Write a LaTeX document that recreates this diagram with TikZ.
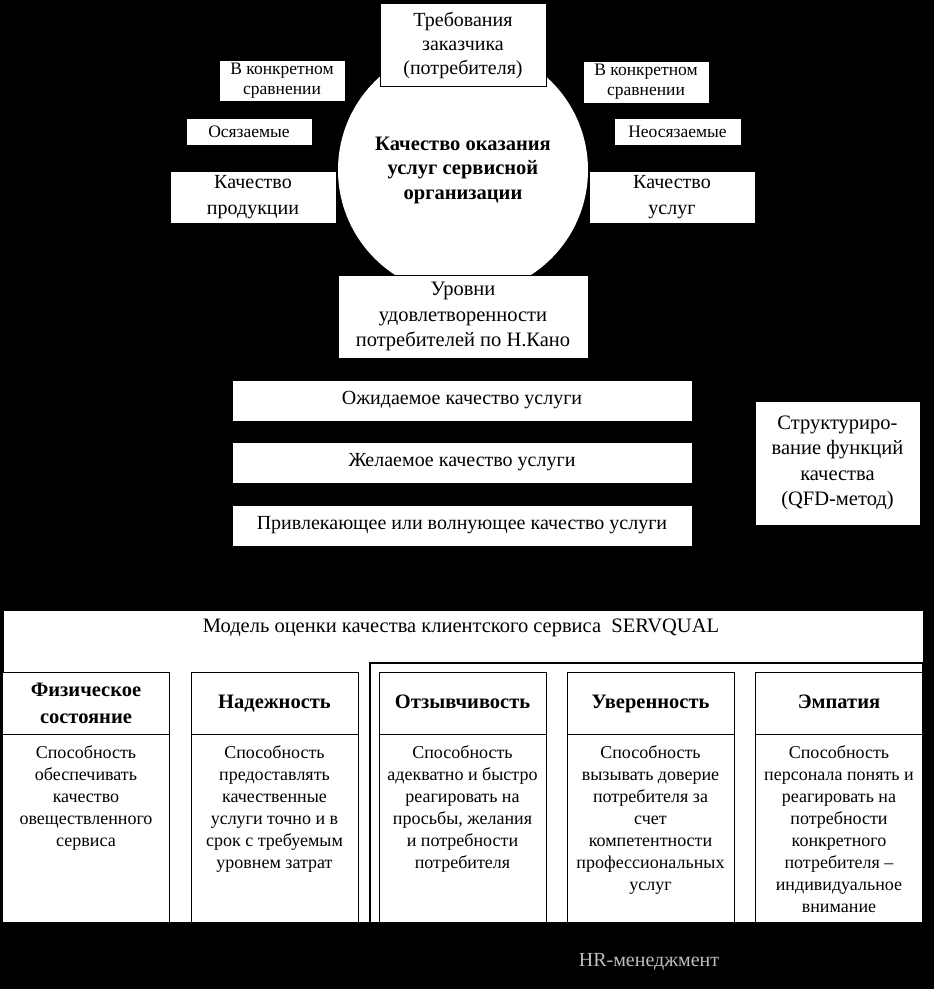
\documentclass[tikz,border=0pt]{standalone}
\usepackage{fontspec}
\setmainfont{Liberation Serif}
\usetikzlibrary{positioning}

\begin{document}
\begin{tikzpicture}[x=1pt,y=-1pt,wbox/.style={fill=white,draw=black,align=center,inner sep=0pt,font=\fontsize{20}{24}\selectfont},small/.style={wbox,font=\fontsize{17.5}{20}\selectfont},bar/.style={wbox,minimum width=460pt,minimum height=41pt,font=\fontsize{20}{22}\selectfont},colhead/.style={fill=white,draw=black,align=center,inner sep=0pt,minimum width=167pt,minimum height=62pt,font=\fontsize{20.5}{27}\selectfont\bfseries},onehead/.style={colhead,text height=14pt,text depth=4pt},colbody/.style={fill=white,draw=black,inner sep=0pt,minimum width=167pt,minimum height=190pt},coltext/.style={align=center,inner sep=0pt,font=\fontsize{18}{22}\selectfont}]
\fill[black] (0,0) rectangle (934,989);
\useasboundingbox (0,0) rectangle (934,989);
% quality of service
\node[circle,fill=white,minimum size=250pt,inner sep=0pt,align=center,font=\fontsize{20.5}{24.5}\selectfont\bfseries] (core) at (463,170){Качество оказания\\услуг сервисной\\организации};
\node[wbox,minimum width=166pt,minimum height=83pt] (req) at (463,45){Требования\\заказчика\\(потребителя)};
\node[small,minimum width=126pt,minimum height=41pt] (cmpl) at (282,81){В конкретном\\сравнении};
\node[small,minimum width=126pt,minimum height=27pt] (tang) at (249,131.5){Осязаемые};
\node[wbox,minimum width=166pt,minimum height=52pt,font=\fontsize{20}{26}\selectfont] (prod) at (253,197){Качество\\продукции};
\node[small,minimum width=126pt,minimum height=42pt] (cmpr) at (646,82){В конкретном\\сравнении};
\node[small,minimum width=127pt,minimum height=27pt] (intang) at (677.5,131.5){Неосязаемые};
\node[wbox,minimum width=166pt,minimum height=52pt,font=\fontsize{20}{26}\selectfont] (serv) at (672,197){Качество\\услуг};
\node[wbox,minimum width=250pt,minimum height=83pt,font=\fontsize{20.5}{25.5}\selectfont] (kano) at (463,316.5){Уровни\\удовлетворенности\\потребителей по Н.Кано};
% Kano levels
\node[bar] (expd) at (462,400.5){Ожидаемое качество услуги};
\node[bar] (desd) at (462,462.5){Желаемое качество услуги};
\node[bar] (attr) at (462,525.5){Привлекающее или волнующее качество услуги};
\node[wbox,minimum width=165pt,minimum height=124pt,font=\fontsize{20.5}{25.5}\selectfont] (qfd) at (837.5,463){Структуриро-\\вание функций\\качества\\(QFD-метод)};
% SERVQUAL
\node[fill=white,draw=black,minimum width=920pt,minimum height=312pt,inner sep=0pt] (sq) at (463,766){};
\node[font=\fontsize{20.5}{24}\selectfont,inner sep=0pt] (sqtitle) at (461,628){Модель оценки качества клиентского сервиса\ \ SERVQUAL};
\node[colhead] (h1) at (86,703){Физическое\\состояние};
\node[colbody,below=0pt of h1] (b1){};
\node[coltext,anchor=north] (t1) at ([yshift=-11pt]b1.north){Способность\\обеспечивать\\качество\\овеществленного\\сервиса};
\node[onehead] (h2) at (274.5,703){Надежность};
\node[colbody,below=0pt of h2] (b2){};
\node[coltext,anchor=north] (t2) at ([yshift=-11pt]b2.north){Способность\\предоставлять\\качественные\\услуги точно и в\\срок с требуемым\\уровнем затрат};
\node[onehead] (h3) at (462.5,703){Отзывчивость};
\node[colbody,below=0pt of h3] (b3){};
\node[coltext,anchor=north] (t3) at ([yshift=-11pt]b3.north){Способность\\адекватно и быстро\\реагировать на\\просьбы, желания\\и потребности\\потребителя};
\node[onehead] (h4) at (650.5,703){Уверенность};
\node[colbody,below=0pt of h4] (b4){};
\node[coltext,anchor=north] (t4) at ([yshift=-11pt]b4.north){Способность\\вызывать доверие\\потребителя за\\счет\\компетентности\\профессиональных\\услуг};
\node[onehead] (h5) at (839,703){Эмпатия};
\node[colbody,below=0pt of h5] (b5){};
\node[coltext,anchor=north] (t5) at ([yshift=-11pt]b5.north){Способность\\персонала понять и\\реагировать на\\потребности\\конкретного\\потребителя --\\индивидуальное\\внимание};
\fill[black] (0,922) rectangle (934,989);
\draw[line width=2.3pt] (370,930) |- (923,663) -- (923,930);
\node[font=\fontsize{20}{22}\selectfont,text=gray!50] (mark) at (649,962){HR-менеджмент};
\end{tikzpicture}
\end{document}
